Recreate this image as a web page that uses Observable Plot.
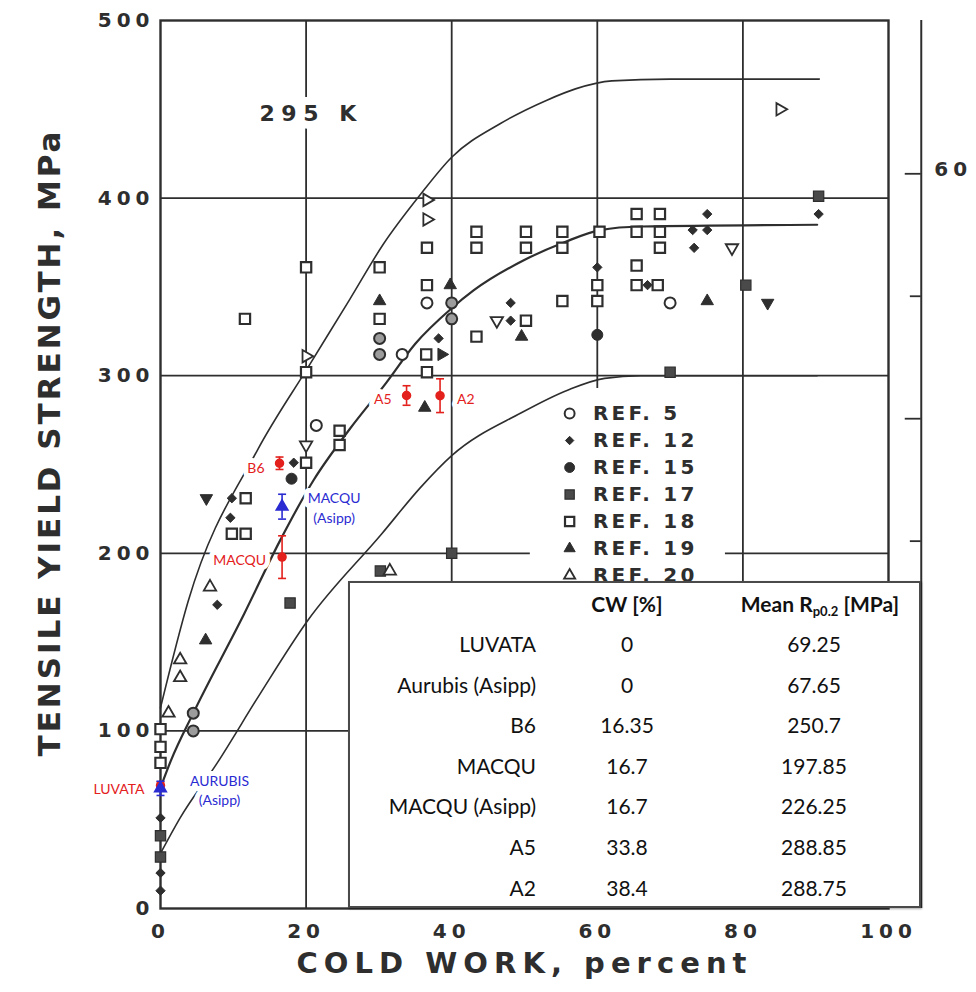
<!DOCTYPE html>
<html>
<head>
<meta charset="utf-8">
<script src="https://cdn.jsdelivr.net/npm/d3@7"></script>
<script src="https://cdn.jsdelivr.net/npm/@observablehq/plot@0.6"></script>
<style>
  body { margin: 0; background: #fff; }
  #wrap { position: relative; width: 976px; height: 992px; overflow: hidden; background: #fff; }
  #wrap svg { position: absolute; left: 0; top: 0; }
  g[aria-label="x-axis tick label"] text, g[aria-label="y-axis tick label"] text { letter-spacing: 5px; }
  #table { position: absolute; left: 348px; top: 581px; width: 569px; height: 323px;
           border: 2px solid #4a4a4a; background: #fff; box-shadow: 1px 1px 2px rgba(0,0,0,0.35);
           font-family: Lato, "Open Sans", sans-serif; font-size: 21px; color: #111; }
  #table .c { position: absolute; white-space: nowrap; transform: translateY(-50%); line-height: 1; }
  #table .h { font-weight: bold; }
  #table sub { font-size: 0.62em; vertical-align: -0.35em; line-height: 0; }
</style>
</head>
<body>
<div id="wrap"><div id="table"></div></div>
<script>
// ---------- axes ----------
const xTicks = [0, 20, 40, 60, 80, 100];
const yTicks = [0, 100, 200, 300, 400, 500];
const xGrid = [20, 40, 60, 80];
const yGrid = [100, 200, 300, 400];
const ksiTicks = [30, 40, 50, 60];
const ksiMajor = [40, 60];
const ksiLabels = [60];
const MPA_PER_KSI = 6.894757;

// ---------- curves (cold work %, MPa) ----------
const upperBand = [[0,113],[3.8,173],[13.3,258],[20.3,305],[26,343],[30.6,374],[35.7,402],[40,423],[46.7,442],[53,455],[57,461.5],[62,466],[70,467],[90.5,467]];
const meanCurve = [[0,68],[1.4,83],[4.5,110],[11.5,166],[16.4,207],[21,241],[26,270],[31,296],[35,318],[40,338],[43,348],[49.9,365],[55.4,375],[60.4,382],[66,384],[90.2,385]];
const lowerBand = [[0,31],[2.7,51],[7.8,82],[13.7,121],[20.2,162],[30.4,211],[35.7,237],[40,255],[49.5,279],[56,292],[61,298.5],[66,300],[90.2,300]];

// ---------- literature data ----------
const ref5 = [[21.4,272],[33.2,312],[36.6,341],[70,341]];
const ref5b = [[4.5,110],[4.5,100],[30.1,321],[30.1,312],[40,341],[40,332]];
const ref12 = [[0,51],[0,20],[0,10],[7.8,171],[9.8,231],[9.6,220],[18.3,251],[38.2,321],[48.1,341],[48.1,331],[60,361],[66.9,351],[73.1,382],[75.1,382],[73.3,372],[75.1,391],[90.4,391]];
const ref15 = [[18,242],[60,323]];
const ref17 = [[0,41],[0,29],[17.8,172],[30.2,190],[40,200],[70,302],[80.4,351],[90.4,401]];
const ref18 = [[0,101],[0,91],[0,82],[11.6,332],[11.7,231],[9.8,211],[11.7,211],[20,361],[20,302],[20,251],[24.6,269],[24.6,261],[30.1,361],[30.1,332],[36.6,372],[36.6,351],[36.5,312],[36.6,302],[43.4,381],[43.4,372],[43.4,322],[50.2,381],[50.2,372],[50.2,331],[55.2,381],[55.2,372],[55.2,342],[60.3,381],[60,351],[60,342],[65.4,391],[65.4,381],[65.4,362],[65.4,351],[68.6,391],[68.6,381],[68.6,372],[68.3,351]];
const ref19 = [[6.2,151],[30.1,342],[36.3,282],[39.8,351],[49.6,322],[75.1,342]];
const ref20 = [[1.1,110],[2.7,130],[2.7,140],[6.8,181],[31.5,190]];
const refOpenRight = [[20,311],[36.6,388],[36.6,399],[85.1,450]];
const refFilledRight = [[38.6,312]];
const refOpenDown = [[20,261],[46.2,331],[78.5,372]];
const refFilledDown = [[6.3,231],[83.4,341]];

const legendLabels = ["REF. 5", "REF. 12", "REF. 15", "REF. 17", "REF. 18", "REF. 19", "REF. 20"];

// ---------- measured samples ----------
const sampleNames = ["LUVATA", "Aurubis (Asipp)", "B6", "MACQU", "MACQU (Asipp)", "A5", "A2"];
const sampleCW = [0, 0, 16.35, 16.7, 16.7, 33.8, 38.4];
const sampleMean = [69.25, 67.65, 250.7, 197.85, 226.25, 288.85, 288.75];
const sampleErr = [2, 4, 3.5, 12, 7, 5.5, 9.5];
const sampleLab = ["own", "asipp", "own", "own", "asipp", "own", "own"];
const chartLabels = ["LUVATA", "AURUBIS\n(Asipp)", "B6", "MACQU", "MACQU\n(Asipp)", "A5", "A2"];

const yTitle = "TENSILE YIELD STRENGTH, MPa";
const xTitle = "COLD WORK, percent";
const tempNote = "295 K";

// ---------- styling / layout ----------
const ink = "#2e2e2e";
const red = "#e3201c";
const blue = "#2b2bd2";
const rightAxisX = 104.5;
const labelOffsets = [[-16,2,"end"],[59,1,"middle"],[-15,3,"end"],[-16,2,"end"],[52,0,"middle"],[-15,2,"end"],[17,2,"start"]];

const sqrt3 = Math.sqrt(3);
const triDown = { draw(ctx, size) { const y = -Math.sqrt(size / (sqrt3 * 3)); ctx.moveTo(0, -y * 2); ctx.lineTo(-sqrt3 * y, y); ctx.lineTo(sqrt3 * y, y); ctx.closePath(); } };
const triRight = { draw(ctx, size) { const y = -Math.sqrt(size / (sqrt3 * 3)); ctx.moveTo(-y * 2, 0); ctx.lineTo(y, -sqrt3 * y); ctx.lineTo(y, sqrt3 * y); ctx.closePath(); } };
const hCap = { draw(ctx, size) { const w = Math.sqrt(size) / 2; ctx.moveTo(-w, 0); ctx.lineTo(w, 0); } };

const series = [
  { data: ref5, symbol: "circle", fill: "white", r: 5.5, sw: 2 },
  { data: ref5b, symbol: "circle", fill: "#9c9c9c", r: 5.5, sw: 2 },
  { data: ref12, symbol: "diamond2", fill: ink, r: 4.2, sw: 1 },
  { data: ref15, symbol: "circle", fill: ink, r: 5.5, sw: 1 },
  { data: ref17, symbol: "square", fill: "#4a4a4a", r: 5.8, sw: 1.2 },
  { data: ref18, symbol: "square", fill: "white", r: 5.8, sw: 2.2 },
  { data: ref19, symbol: "triangle", fill: ink, r: 4.6, sw: 1 },
  { data: ref20, symbol: "triangle", fill: "white", r: 4.6, sw: 1.8 },
  { data: refOpenRight, symbol: triRight, fill: "white", r: 4.6, sw: 1.8 },
  { data: refFilledRight, symbol: triRight, fill: ink, r: 4.6, sw: 1 },
  { data: refOpenDown, symbol: triDown, fill: "white", r: 4.6, sw: 1.8 },
  { data: refFilledDown, symbol: triDown, fill: ink, r: 4.6, sw: 1 }
];
const legendStyles = [series[0], series[2], series[3], series[4], series[5], series[6], series[7]];
const legendSymX = 56.2, legendTextX = 59.4, legendY0 = 278.7, legendStep = 15.2;

const samples = sampleNames.map((name, i) => ({ name, cw: sampleCW[i], mean: sampleMean[i], err: sampleErr[i], lab: sampleLab[i], label: chartLabels[i], i }));
const own = samples.filter(d => d.lab === "own");
const asipp = samples.filter(d => d.lab === "asipp");

const px = d => d[0], py = d => d[1];

const marks = [
  Plot.ruleX(xGrid, { stroke: ink, strokeWidth: 1.8 }),
  Plot.ruleY(yGrid, { stroke: ink, strokeWidth: 1.8 }),
  Plot.frame({ stroke: ink, strokeWidth: 2.4 }),
  Plot.ruleX([rightAxisX], { y1: 0, y2: 500, stroke: ink, strokeWidth: 2 }),
  Plot.ruleY(ksiTicks, { y: k => k * MPA_PER_KSI, x1: k => ksiMajor.includes(k) ? 102.3 : 103.0, x2: rightAxisX, stroke: ink, strokeWidth: 1.8 }),
  Plot.text(ksiLabels, { x: rightAxisX, y: k => k * MPA_PER_KSI, text: k => String(k), textAnchor: "start", dx: 13, dy: -4, fontSize: 20, fontWeight: "bold", fill: ink }),
  Plot.axisX(xTicks, { tickSize: 0, tickPadding: 15, fontSize: 20, fontWeight: "bold", fill: ink, label: null }),
  Plot.axisY(yTicks, { tickSize: 0, tickPadding: 6, fontSize: 20, fontWeight: "bold", fill: ink, label: null }),
  // legend backdrop
  Plot.rect([0], { x1: 50.8, x2: 77.6, y1: 170, y2: 292.8, fill: "white" }),
  // curves
  Plot.line(upperBand, { x: px, y: py, curve: "monotone-x", stroke: ink, strokeWidth: 1.6 }),
  Plot.line(meanCurve, { x: px, y: py, curve: "monotone-x", stroke: ink, strokeWidth: 2.2 }),
  Plot.line(lowerBand, { x: px, y: py, curve: "monotone-x", stroke: ink, strokeWidth: 1.6 }),
  // literature points
  ...series.map(s => Plot.dot(s.data, { x: px, y: py, symbol: s.symbol, fill: s.fill, stroke: ink, strokeWidth: s.sw, r: s.r })),
  // legend
  ...legendStyles.map((s, i) => Plot.dot([i], { x: legendSymX, y: legendY0 - i * legendStep, symbol: s.symbol, fill: s.fill, stroke: ink, strokeWidth: s.sw, r: s.r * 0.9 })),
  Plot.text(legendLabels, { x: legendTextX, y: (d, i) => legendY0 - i * legendStep, text: d => d, textAnchor: "start", fontSize: 20, fontWeight: "bold", fill: ink, fontFamily: "DejaVu Sans, sans-serif" }),
  // temperature note
  Plot.text([tempNote], { x: 20.7, y: 447.6, text: d => d, fontSize: 22, fontWeight: "bold", fill: ink, stroke: "white", strokeWidth: 16, fontFamily: "DejaVu Sans, sans-serif" }),
  // sample labels
  ...samples.map((d, i) => Plot.text([d], { x: "cw", y: "mean", text: "label", dx: labelOffsets[i][0], dy: labelOffsets[i][1], textAnchor: labelOffsets[i][2], lineHeight: 1.4, fontSize: 14, fontFamily: "Lato, 'Open Sans', sans-serif", fill: d.lab === "own" ? red : blue, stroke: "white", strokeWidth: 10, strokeLinejoin: "round" })),
  // error bars
  Plot.ruleX(own, { x: "cw", y1: d => d.mean - d.err, y2: d => d.mean + d.err, stroke: red, strokeWidth: 1.6 }),
  Plot.dot(own, { x: "cw", y: d => d.mean - d.err, symbol: hCap, r: 4.5, stroke: red, fill: "none", strokeWidth: 1.6 }),
  Plot.dot(own, { x: "cw", y: d => d.mean + d.err, symbol: hCap, r: 4.5, stroke: red, fill: "none", strokeWidth: 1.6 }),
  Plot.dot(own, { x: "cw", y: "mean", r: 4, fill: red, stroke: red }),
  Plot.ruleX(asipp, { x: "cw", y1: d => d.mean - d.err, y2: d => d.mean + d.err, stroke: blue, strokeWidth: 1.6 }),
  Plot.dot(asipp, { x: "cw", y: d => d.mean - d.err, symbol: hCap, r: 4.5, stroke: blue, fill: "none", strokeWidth: 1.6 }),
  Plot.dot(asipp, { x: "cw", y: d => d.mean + d.err, symbol: hCap, r: 4.5, stroke: blue, fill: "none", strokeWidth: 1.6 }),
  Plot.dot(asipp, { x: "cw", y: "mean", symbol: "triangle", r: 4.4, fill: blue, stroke: blue }),
  // axis titles
  Plot.text([yTitle], { frameAnchor: "left", textAnchor: "middle", dx: -110, dy: -22, rotate: -90, text: d => d, fontSize: 31, fontWeight: "bold", fill: ink, fontFamily: "DejaVu Sans, sans-serif" }),
  Plot.text([xTitle], { frameAnchor: "bottom", textAnchor: "middle", dy: 64, text: d => d, fontSize: 29, fontWeight: "bold", fill: ink, fontFamily: "DejaVu Sans, sans-serif" })
];

const chart = Plot.plot({
  width: 976, height: 992,
  marginLeft: 160, marginRight: 88, marginTop: 20, marginBottom: 84,
  x: { domain: [0, 100], axis: null },
  y: { domain: [0, 500], axis: null },
  style: { background: "white", fontFamily: "DejaVu Sans, sans-serif", overflow: "visible" },
  marks
});
document.getElementById("wrap").insertBefore(chart, document.getElementById("table"));

// ---------- fit spread lettering of the original ----------
const allTexts = Array.from(chart.querySelectorAll("text"));
function findText(s) { return allTexts.filter(t => t.textContent === s); }
function spreadTo(el, target) {
  const L = el.getComputedTextLength();
  const n = el.textContent.length;
  if (L > target) {
    const tr = el.getAttribute("transform") || "";
    el.setAttribute("transform", tr + ` scale(${(target / L).toFixed(4)},1)`);
  } else {
    el.style.letterSpacing = ((target - L) / (n - 1)).toFixed(2) + "px";
  }
}
findText(yTitle).forEach(el => spreadTo(el, 625));
findText(xTitle).forEach(el => spreadTo(el, 450));
findText(tempNote).forEach(el => spreadTo(el, 97));
legendLabels.forEach(l => findText(l).forEach(el => { el.style.letterSpacing = "3.2px"; }));
findText("60").forEach(el => { el.style.letterSpacing = "5px"; });

// ---------- table ----------
const table = document.getElementById("table");
function cell(html, cls, style) {
  const el = document.createElement("div");
  el.className = "c " + cls;
  el.innerHTML = html;
  Object.assign(el.style, style);
  table.appendChild(el);
}
cell("CW [%]", "h", { left: "277px", top: "20px", transform: "translate(-50%,-50%)" });
cell("Mean R<sub>p0.2</sub> [MPa]", "h", { left: "470px", top: "20px", transform: "translate(-50%,-50%)" });
const rowTop = 60, rowStep = 40.6;
sampleNames.forEach((name, i) => {
  const top = (rowTop + i * rowStep) + "px";
  cell(name, "", { right: (569 - 4 - 182) + "px", top, textAlign: "right" });
  cell(String(sampleCW[i]), "", { left: "277px", top, transform: "translate(-50%,-50%)" });
  cell(String(sampleMean[i]), "", { left: "464px", top, transform: "translate(-50%,-50%)" });
});
</script>
</body>
</html>
